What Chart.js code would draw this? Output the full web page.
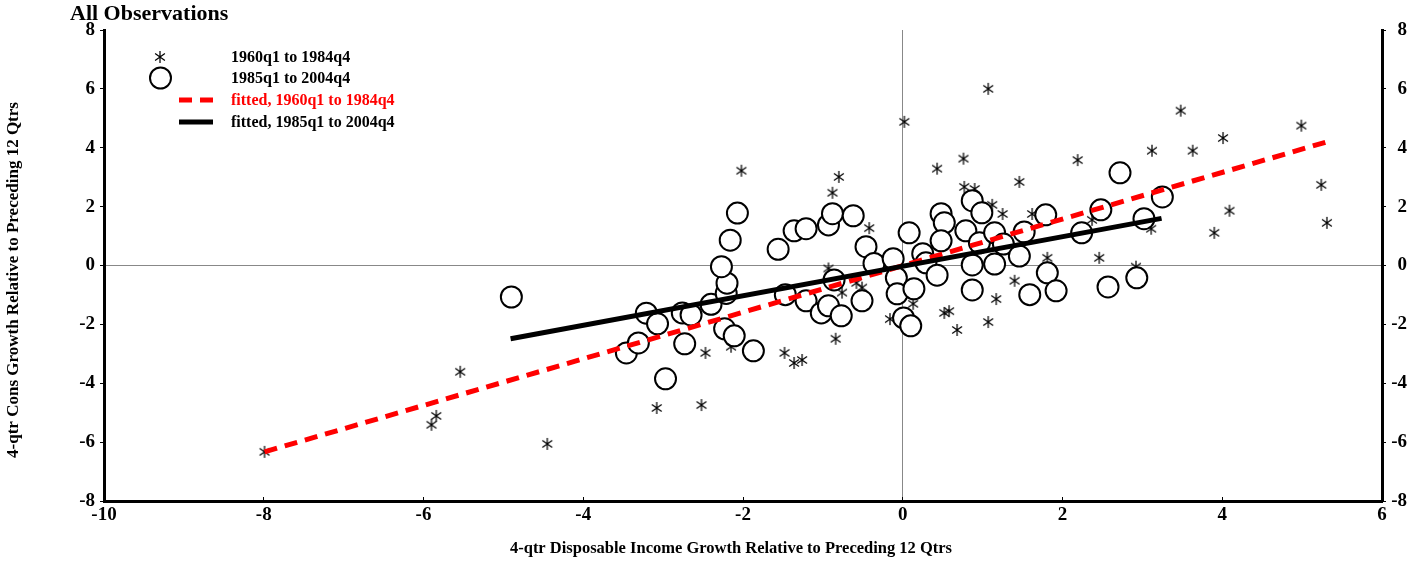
<!DOCTYPE html>
<html>
<head>
<meta charset="utf-8">
<title>All Observations</title>
<script src="https://cdn.jsdelivr.net/npm/chart.js@4.4.1/dist/chart.umd.min.js"></script>
<style>
  html, body { margin: 0; padding: 0; background: #fff; }
  #wrap { width: 1420px; height: 562px; position: relative; }
</style>
</head>
<body>
<div id="wrap"><canvas id="chart"></canvas></div>
<script>
// 1960q1 - 1984q4 observations
const earlyX = [-7.99, -5.90, -5.84, -5.54, -4.45, -3.08, -2.52, -2.47, -2.15, -2.02,
                -1.48, -1.36, -1.26, -0.88, -0.80, -0.84, -0.93, -0.58, -0.51, -0.76,
                -0.42, -0.16, 0.02, 0.13, 0.43, 0.76, 1.07, 0.77, 0.90, 1.12,
                1.25, 1.62, 0.52, 0.58, 0.68, 1.07, 1.17, 1.40, 1.46, 1.81,
                2.19, 2.37, 2.46, 2.92, 3.11, 3.12, 3.48, 3.63, 3.90, 4.01,
                4.09, 4.99, 5.24, 5.31];
const earlyY = [-6.33, -5.41, -5.11, -3.61, -6.06, -4.84, -4.74, -2.97, -2.76, 3.22,
                -2.97, -3.31, -3.21, 2.47, 3.01, -2.49, -0.10, -0.59, -0.75, -0.92,
                1.27, -1.82, 4.88, -1.30, 3.29, 3.63, 6.00, 2.67, 2.60, 2.06,
                1.75, 1.75, -1.61, -1.55, -2.19, -1.92, -1.14, -0.52, 2.84, 0.26,
                3.58, 1.55, 0.26, -0.04, 1.25, 3.90, 5.26, 3.90, 1.11, 4.33,
                1.86, 4.75, 2.74, 1.45];

// 1985q1 - 2004q4 observations
const lateX = [-4.90, -3.46, -3.31, -2.97, -3.21, -3.07, -2.76, -2.65, -2.73, -2.40,
               -2.23, -2.11, -1.87, -2.21, -2.20, -2.27, -2.16, -2.07, -1.56, -1.36,
               -1.21, -0.93, -0.88, -0.62, -0.46, -0.36, -0.12, -1.47, -1.21, -1.02,
               -0.93, -0.77, -0.86, -0.51, -0.08, -0.07, 0.14, 0.01, 0.10, 0.08,
               0.25, 0.29, 0.43, 0.48, 0.52, 0.48, 0.79, 0.87, 0.99, 0.96,
               0.87, 1.15, 1.15, 1.26, 1.46, 1.52, 1.79, 1.81, 1.92, 1.59,
               0.87, 2.24, 2.48, 2.57, 2.72, 2.93, 3.02, 3.25];
const lateY = [-1.07, -2.97, -2.63, -3.85, -1.62, -1.98, -1.61, -1.68, -2.66, -1.32,
               -2.15, -2.39, -2.90, -0.95, -0.60, -0.04, 0.86, 1.78, 0.55, 1.18,
               1.25, 1.38, 1.76, 1.69, 0.64, 0.07, 0.23, -0.99, -1.20, -1.61,
               -1.37, -1.71, -0.49, -1.20, -0.42, -0.96, -0.79, -1.78, -2.05, 1.11,
               0.40, 0.09, -0.33, 1.76, 1.45, 0.84, 1.18, 2.20, 1.79, 0.77,
               0.02, 0.05, 1.11, 0.73, 0.32, 1.14, 1.72, -0.25, -0.86, -0.99,
               -0.83, 1.11, 1.89, -0.73, 3.15, -0.42, 1.59, 2.33];

// regression lines (end points)
const fitEarlyX = [-7.99, 5.31];
const fitEarlyY = [-6.33, 4.20];
const fitLateX = [-4.91, 3.24];
const fitLateY = [-2.49, 1.60];

const seriesLabels = ['1960q1 to 1984q4', '1985q1 to 2004q4',
                      'fitted, 1960q1 to 1984q4', 'fitted, 1985q1 to 2004q4'];
const titleText = 'All Observations';
const xTitle = '4-qtr Disposable Income Growth Relative to Preceding 12 Qtrs';
const yTitle = '4-qtr Cons Growth Relative to Preceding 12 Qtrs';

const SERIF = '"Liberation Serif", "Times New Roman", serif';

function toPoints(xs, ys) {
  return xs.map((x, i) => ({ x: x, y: ys[i] }));
}

// six-armed asterisk marker
function makeStar(size) {
  const c = document.createElement('canvas');
  c.width = size; c.height = size;
  const g = c.getContext('2d');
  const m = size / 2, r = size / 2 - 1;
  const a = 35 * Math.PI / 180;
  const dx = r * Math.cos(a), dy = r * Math.sin(a);
  g.strokeStyle = '#000';
  g.lineWidth = 1.25;
  g.beginPath();
  g.moveTo(m, m - r); g.lineTo(m, m + r);
  g.moveTo(m - dx, m - dy); g.lineTo(m + dx, m + dy);
  g.moveTo(m - dx, m + dy); g.lineTo(m + dx, m - dy);
  g.stroke();
  return c;
}
const starMark = makeStar(14);

// title, axis titles and in-plot legend
const decorPlugin = {
  id: 'decor',
  afterDraw(chart) {
    const ctx = chart.ctx;
    const ds = chart.data.datasets;
    ctx.save();
    ctx.fillStyle = '#000';
    ctx.font = 'bold 22px ' + SERIF;
    ctx.textBaseline = 'alphabetic';
    ctx.textAlign = 'left';
    ctx.fillText(titleText, 70, 20);

    // axis titles
    ctx.font = 'bold 16.5px ' + SERIF;
    ctx.textAlign = 'center';
    ctx.textBaseline = 'middle';
    ctx.fillText(xTitle, 731, 549);
    ctx.save();
    ctx.translate(14, 280);
    ctx.rotate(-Math.PI / 2);
    ctx.font = 'bold 17px ' + SERIF;
    ctx.fillText(yTitle, 0, 0);
    ctx.restore();

    const textX = 231;
    const rows = [57, 78, 100, 122];
    ctx.textAlign = 'left';
    // marker entries
    ctx.drawImage(starMark, 160 - starMark.width / 2, rows[0] - starMark.height / 2);
    ctx.beginPath();
    ctx.arc(160.5, rows[1], 10.5, 0, Math.PI * 2);
    ctx.fillStyle = '#fff';
    ctx.fill();
    ctx.lineWidth = 2;
    ctx.strokeStyle = '#000';
    ctx.stroke();
    // line entries
    [ds[2], ds[3]].forEach((d, i) => {
      ctx.beginPath();
      ctx.setLineDash(d.borderDash || []);
      ctx.lineWidth = d.borderWidth;
      ctx.strokeStyle = d.borderColor;
      ctx.moveTo(179, rows[2 + i]);
      ctx.lineTo(213, rows[2 + i]);
      ctx.stroke();
    });
    ctx.setLineDash([]);
    ctx.font = 'bold 16px ' + SERIF;
    ds.forEach((d, i) => {
      ctx.fillStyle = i === 2 ? '#ff0000' : '#000';
      ctx.fillText(d.label, textX, rows[i] + 1);
    });
    ctx.restore();
  }
};

const tickFont = { family: SERIF, size: 19, weight: 'bold' };
const zeroGrid = c => (c.tick && c.tick.value === 0) ? '#888888' : 'rgba(0,0,0,0)';

new Chart(document.getElementById('chart'), {
  type: 'scatter',
  data: {
    datasets: [
      {
        label: seriesLabels[0],
        data: toPoints(earlyX, earlyY),
        pointStyle: starMark,
        pointRadius: 7,
        order: 3
      },
      {
        label: seriesLabels[1],
        data: toPoints(lateX, lateY),
        pointStyle: 'circle',
        pointRadius: 10.5,
        pointBackgroundColor: '#fff',
        pointBorderColor: '#000',
        pointBorderWidth: 2,
        order: 2
      },
      {
        label: seriesLabels[2],
        data: toPoints(fitEarlyX, fitEarlyY),
        showLine: true,
        pointRadius: 0,
        borderColor: '#ff0000',
        borderWidth: 5,
        borderDash: [13, 8],
        order: 1
      },
      {
        label: seriesLabels[3],
        data: toPoints(fitLateX, fitLateY),
        showLine: true,
        pointRadius: 0,
        borderColor: '#000',
        borderWidth: 5,
        order: 0
      }
    ]
  },
  options: {
    responsive: true,
    maintainAspectRatio: false,
    animation: false,
    layout: { padding: { top: 30, left: 0, right: 13, bottom: 0 } },
    plugins: {
      legend: { display: false },
      tooltip: { enabled: false }
    },
    scales: {
      x: {
        type: 'linear',
        min: -10,
        max: 6,
        afterFit: s => { s.height = 61; },
        border: { display: true, color: '#000', width: 3 },
        grid: { color: zeroGrid, lineWidth: 1, tickColor: '#000', tickLength: -4 },
        ticks: { stepSize: 2, font: tickFont, color: '#000', padding: 7, maxRotation: 0 }
      },
      y: {
        type: 'linear',
        position: 'left',
        min: -8,
        max: 8,
        afterFit: s => { s.width = 104; },
        border: { display: true, color: '#000', width: 3 },
        grid: { color: zeroGrid, lineWidth: 1, tickColor: '#000', tickLength: 4 },
        ticks: { stepSize: 2, font: tickFont, color: '#000', padding: 5 }
      },
      y2: {
        type: 'linear',
        position: 'right',
        min: -8,
        max: 8,
        afterFit: s => { s.width = 25; },
        border: { display: true, color: '#000', width: 3 },
        grid: { color: 'rgba(0,0,0,0)', tickColor: '#000', tickLength: 4, drawOnChartArea: false },
        ticks: { stepSize: 2, font: tickFont, color: '#000', padding: 5, crossAlign: 'far' }
      }
    }
  },
  plugins: [decorPlugin]
});
</script>
</body>
</html>
